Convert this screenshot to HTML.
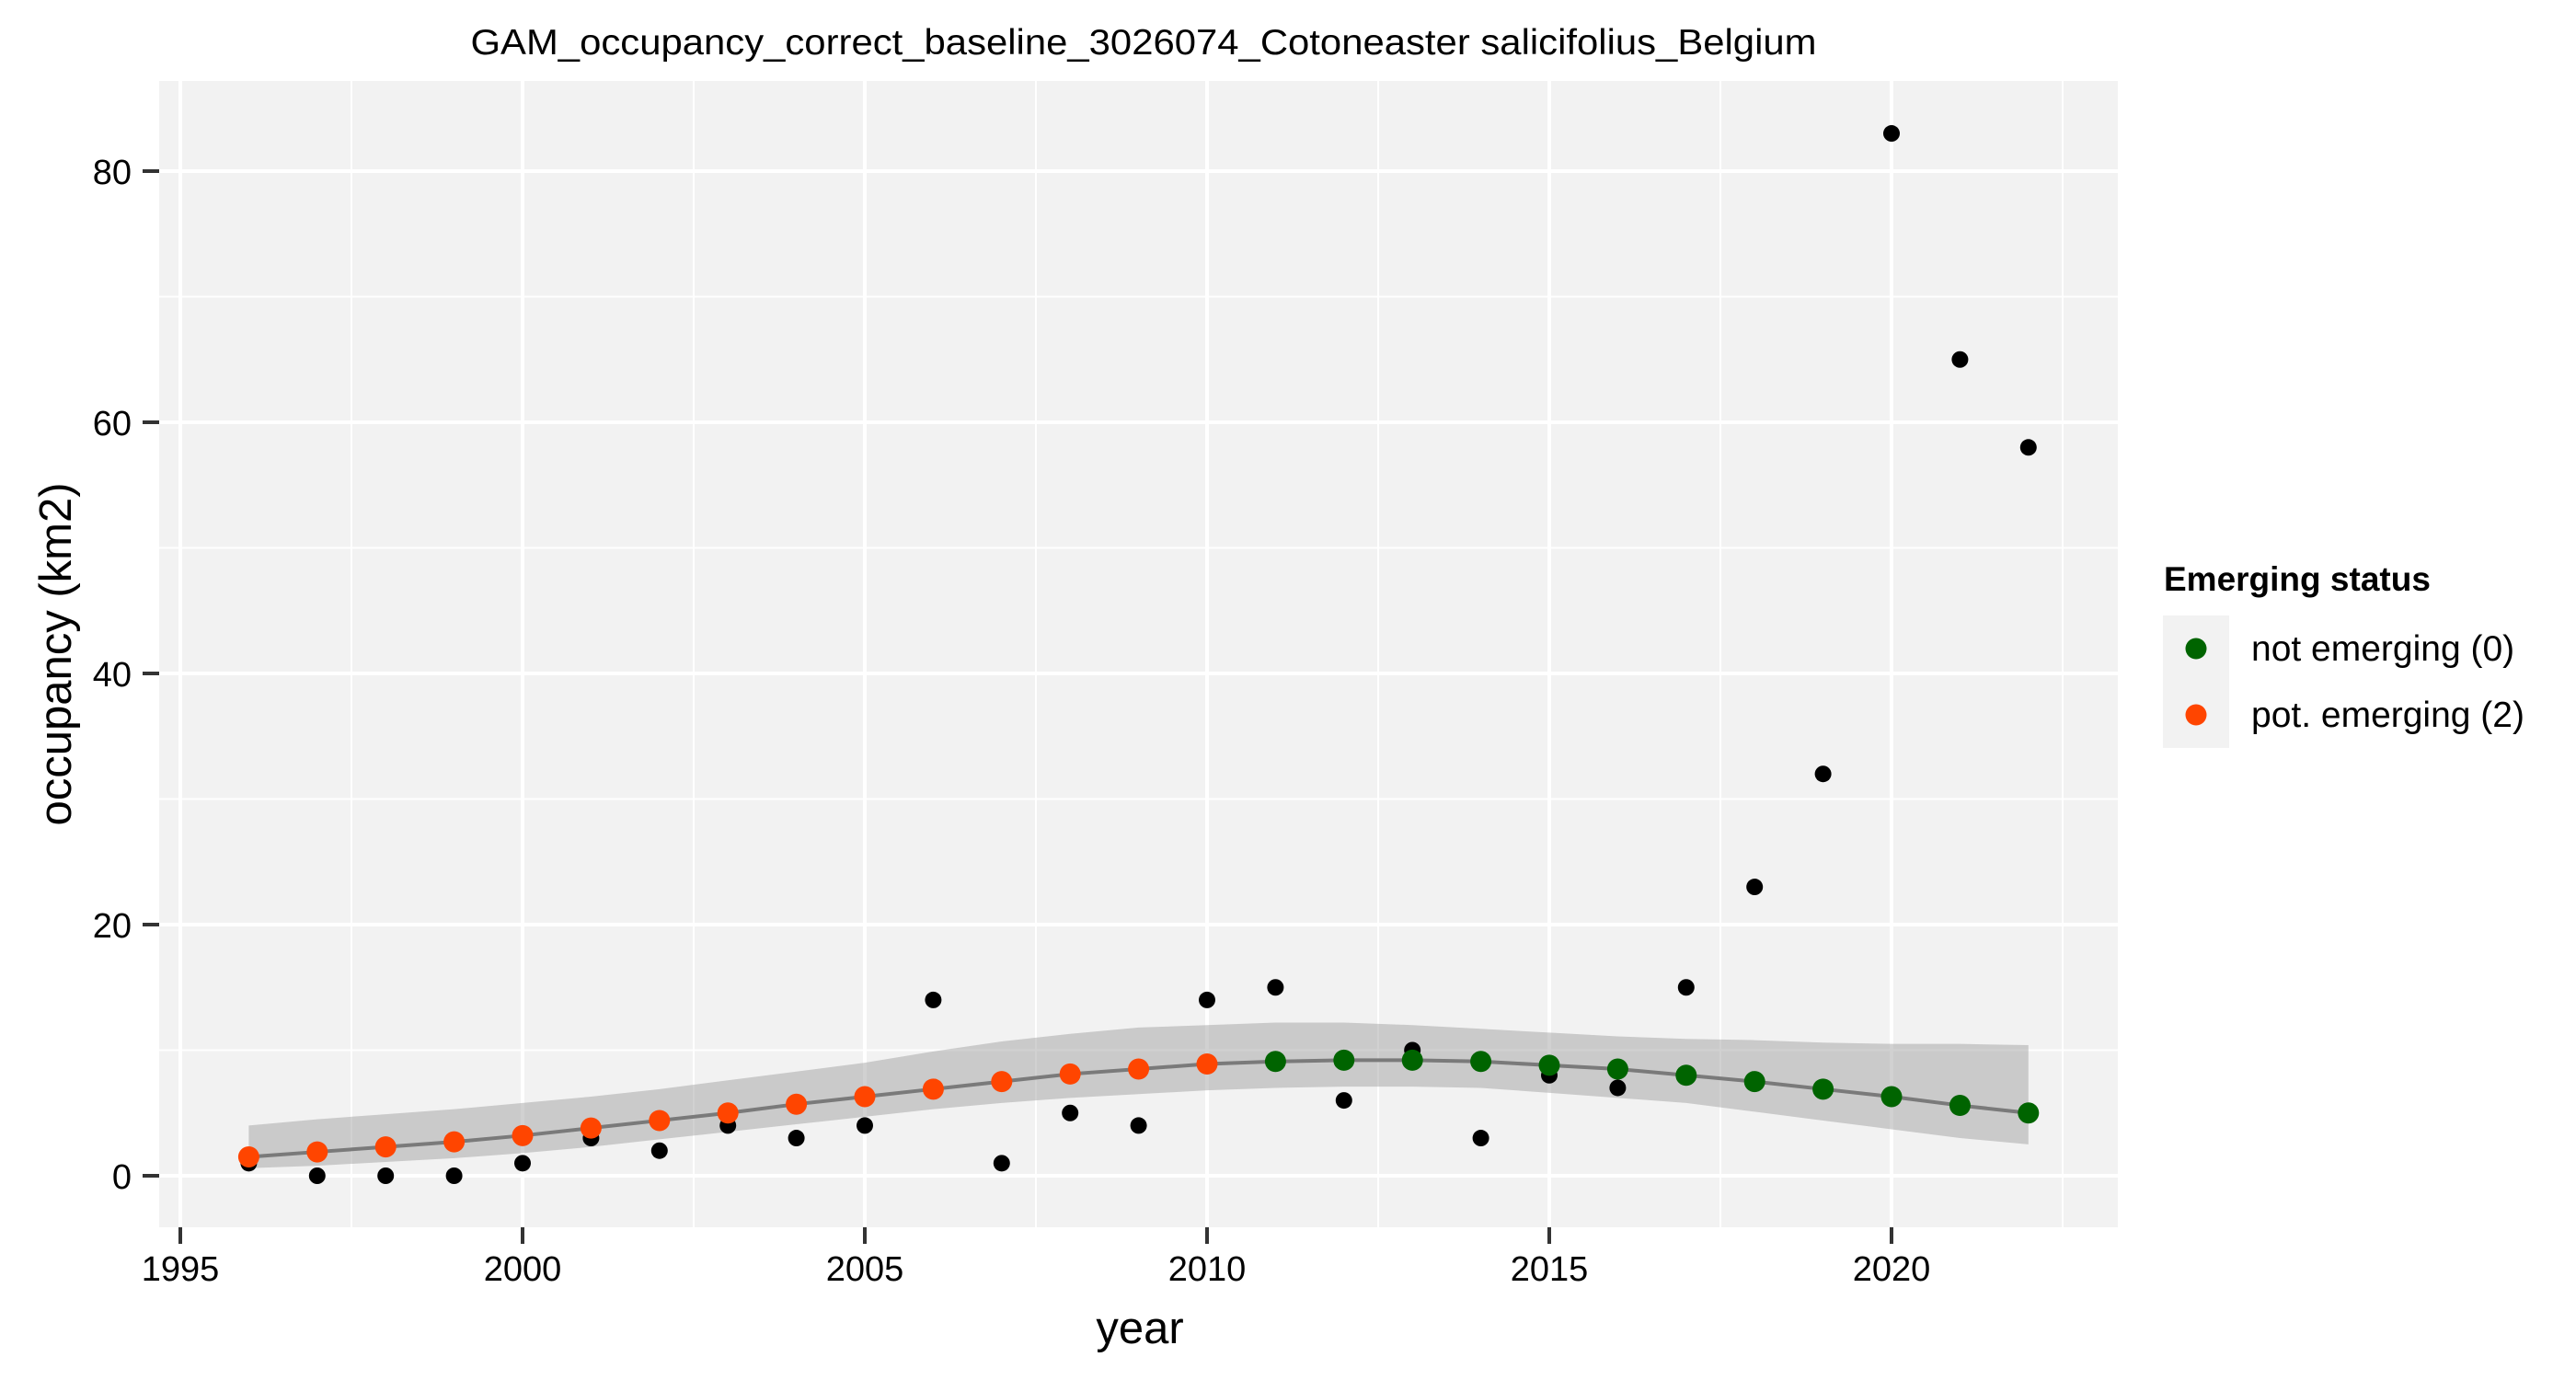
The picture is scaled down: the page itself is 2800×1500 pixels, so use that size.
<!DOCTYPE html>
<html><head><meta charset="utf-8"><style>
html,body{margin:0;padding:0;background:#fff;}
svg{display:block;font-family:"Liberation Sans",Arial,sans-serif;}
</style></head><body>
<svg id="chart" width="2800" height="1500" viewBox="0 0 2800 1500" xmlns="http://www.w3.org/2000/svg">
<rect width="2800" height="1500" fill="#fff"/>
<text x="1243" y="59" font-size="39" text-anchor="middle" textLength="1463" lengthAdjust="spacingAndGlyphs">GAM_occupancy_correct_baseline_3026074_Cotoneaster salicifolius_Belgium</text>
<rect x="173" y="88" width="2129" height="1246" fill="#f2f2f2"/>
<g id="grid"></g>
<g id="band"></g>
<g id="obs"></g>
<g id="fitg"></g>
<g id="axes"></g>
<text x="1239" y="1460" font-size="49" text-anchor="middle">year</text>
<text transform="translate(77,711) rotate(-90)" font-size="49" text-anchor="middle">occupancy (km2)</text>
<g>
<text x="2352" y="642" font-size="37" font-weight="bold">Emerging status</text>
<rect x="2351" y="669" width="72" height="144" fill="#f2f2f2"/>
<circle cx="2387" cy="705" r="11.5" fill="#006400"/>
<circle cx="2387" cy="777" r="11.5" fill="#ff4500"/>
<text x="2447" y="718" font-size="39">not emerging (0)</text>
<text x="2447" y="790" font-size="39">pot. emerging (2)</text>
</g>
</svg>
<script>
const years = [1996,1997,1998,1999,2000,2001,2002,2003,2004,2005,2006,2007,2008,2009,2010,2011,2012,2013,2014,2015,2016,2017,2018,2019,2020,2021,2022];
const observed = [1,0,0,0,1,3,2,4,3,4,14,1,5,4,14,15,6,10,3,8,7,15,23,32,83,65,58];
const fitted = [1.5,1.9,2.3,2.7,3.2,3.8,4.4,5.0,5.7,6.3,6.9,7.5,8.1,8.5,8.9,9.1,9.2,9.2,9.1,8.8,8.5,8.0,7.5,6.9,6.3,5.6,5.0];
const upper = [4.0,4.5,4.9,5.3,5.8,6.3,6.9,7.6,8.3,9.0,9.9,10.7,11.3,11.8,12.0,12.2,12.2,12.0,11.7,11.4,11.1,10.9,10.8,10.6,10.5,10.5,10.4];
const lower = [0.6,0.8,1.1,1.4,1.8,2.3,2.9,3.5,4.1,4.7,5.3,5.8,6.2,6.5,6.8,7.0,7.1,7.1,7.0,6.6,6.2,5.8,5.1,4.4,3.7,3.0,2.5];
const status = [2,2,2,2,2,2,2,2,2,2,2,2,2,2,2,0,0,0,0,0,0,0,0,0,0,0,0];
const xTicks = [1995,2000,2005,2010,2015,2020];
const yTicks = [0,20,40,60,80];

const NS = "http://www.w3.org/2000/svg";
function X(yr){ return 196 + (yr - 1995) * 74.4; }
function Y(v){ return 1278 - v * 13.65; }
function mk(tag, attrs, parent){ const e = document.createElementNS(NS, tag); for (const k in attrs) e.setAttribute(k, attrs[k]); parent.appendChild(e); return e; }

const grid = document.getElementById('grid');
for (let i = 0; i < xTicks.length; i++) {
  const xm = X(xTicks[i] + 2.5);
  if (xm < 2302) { const l = mk('line', {x1:xm, x2:xm, y1:88, y2:1334, stroke:'#fff', 'stroke-width':2}, grid);
    
     }
}
for (let i = 0; i < yTicks.length; i++) {
  const ym = Y(yTicks[i] + 10);
  if (ym > 88) { const l = mk('line', {x1:173, x2:2302, y1:ym, y2:ym, stroke:'#fff', 'stroke-width':2}, grid);
    
     }
}
for (let i = 0; i < xTicks.length; i++) {
  const l = mk('line', {x1:X(xTicks[i]), x2:X(xTicks[i]), y1:88, y2:1334, stroke:'#fff', 'stroke-width':4}, grid);
  
  
}
for (let i = 0; i < yTicks.length; i++) {
  const l = mk('line', {x1:173, x2:2302, y1:Y(yTicks[i]), y2:Y(yTicks[i]), stroke:'#fff', 'stroke-width':4}, grid);
  
  
}

const band = document.getElementById('band');
let d = '';
for (let i = 0; i < years.length; i++) d += (i ? 'L' : 'M') + X(years[i]) + ',' + Y(upper[i]);
for (let i = years.length - 1; i >= 0; i--) d += 'L' + X(years[i]) + ',' + Y(lower[i]);
const bp = mk('path', {d: d + 'Z', fill:'#999', 'fill-opacity':0.45}, band);



const obs = document.getElementById('obs');
for (let i = 0; i < years.length; i++) {
  const c = mk('circle', {cx:X(years[i]), cy:Y(observed[i]), r:9, fill:'#000'}, obs);
  
  
}

const fitg = document.getElementById('fitg');
let ld = '';
for (let i = 0; i < years.length; i++) ld += (i ? 'L' : 'M') + X(years[i]) + ',' + Y(fitted[i]);
const fl = mk('path', {d: ld, fill:'none', stroke:'#7a7a7a', 'stroke-width':4}, fitg);


for (let i = 0; i < years.length; i++) {
  const c = mk('circle', {cx:X(years[i]), cy:Y(fitted[i]), r:11.5, fill: status[i] === 2 ? '#ff4500' : '#006400'}, fitg);
  
  
}

const axes = document.getElementById('axes');
for (let i = 0; i < xTicks.length; i++) {
  const t = mk('line', {x1:X(xTicks[i]), x2:X(xTicks[i]), y1:1334, y2:1352, stroke:'#333', 'stroke-width':4}, axes);
  
  
  const lb = mk('text', {x:X(xTicks[i]), y:1392, 'font-size':38, 'text-anchor':'middle'}, axes);
  lb.textContent = xTicks[i];
  
  
}
for (let i = 0; i < yTicks.length; i++) {
  const t = mk('line', {x1:155, x2:173, y1:Y(yTicks[i]), y2:Y(yTicks[i]), stroke:'#333', 'stroke-width':4}, axes);
  
  
  const lb = mk('text', {x:143, y:Y(yTicks[i]) + 14, 'font-size':38, 'text-anchor':'end'}, axes);
  lb.textContent = yTicks[i];
  
  
}
</script>
</body></html>
